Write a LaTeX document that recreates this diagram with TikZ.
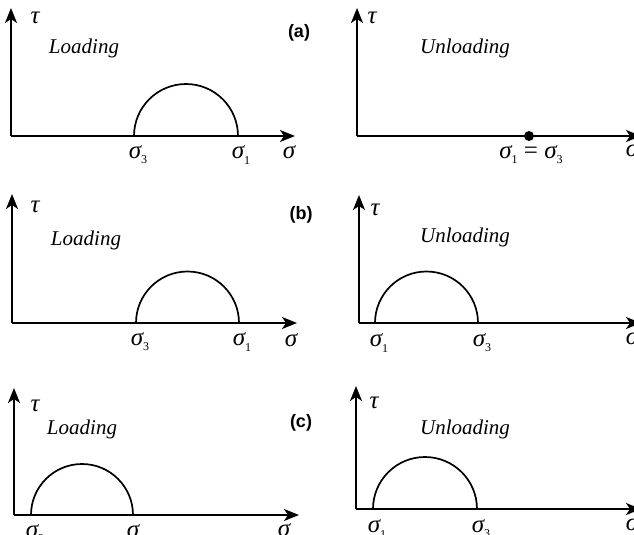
\documentclass[tikz,border=0pt]{standalone}
\usepackage{fontspec}
\setmainfont{Liberation Serif}
\setsansfont{Liberation Sans}
\usetikzlibrary{arrows.meta}

% sigma with an upright subscript
\newcommand{\sg}[1]{σ\raisebox{-0.45ex}{\upshape\fontsize{12}{12}\selectfont #1}}

\tikzset{
  axis/.style  = {line width=2pt,
                  -{Stealth[length=15pt, width=12pt, inset=4pt]}},
  mohr/.style  = {line width=1.7pt},
  sym/.style   = {font=\fontsize{25}{25}\selectfont\itshape, inner sep=0pt},
  state/.style = {font=\fontsize{21}{21}\selectfont\itshape, inner sep=0pt},
  tag/.style   = {font=\sffamily\bfseries\fontsize{18}{18}\selectfont,
                  inner sep=0pt},
  spot/.style  = {circle, fill=black, inner sep=0pt, minimum size=10pt},
}

\begin{document}
\begin{tikzpicture}[x=1pt, y=-1pt]
  \useasboundingbox (0,0) rectangle (634,535);

  %% ---------------- (a) loading ----------------
  \coordinate (oA) at (11,136);
  \coordinate (tA) at (11,8);
  \coordinate (xA) at (295,136);
  \draw[axis] (oA) -- (tA);
  \draw[axis] (oA) -- (xA);
  \coordinate (a3) at (134,136);
  \draw[mohr] (a3) arc[start angle=180, end angle=0, radius=52pt];
  \node[sym] (tauA) at (35,18) {τ};
  \node[state] (ldA) at (84,48) {Loading};
  \node[tag] (tagA) at (299,33) {(a)};
  \node[sym] (sA3) at (138,155) {\sg{3}};
  \node[sym] (sA1) at (241,155) {\sg{1}};
  \node[sym] (sA) at (289,152) {σ};

  %% ---------------- (a) unloading ----------------
  \coordinate (oB) at (357,136);
  \coordinate (tB) at (357,8);
  \coordinate (xB) at (641,136);
  \draw[axis] (oB) -- (tB);
  \draw[axis] (oB) -- (xB);
  \node[spot] (pB) at (529,136) {};
  \node[sym] (tauB) at (372,18) {τ};
  \node[state] (ulB) at (465,48) {Unloading};
  \node[sym] (sB) at (531,155) {\sg{1} {\upshape=} \sg{3}};
  \node[sym] (sBx) at (632,150) {σ};

  %% ---------------- (b) loading ----------------
  \coordinate (oC) at (12,323);
  \coordinate (tC) at (12,194);
  \coordinate (xC) at (297,323);
  \draw[axis] (oC) -- (tC);
  \draw[axis] (oC) -- (xC);
  \coordinate (c3) at (136,323);
  \draw[mohr] (c3) arc[start angle=180, end angle=0, radius=51.5pt];
  \node[sym] (tauC) at (35,207) {τ};
  \node[state] (ldC) at (86,240) {Loading};
  \node[tag] (tagC) at (301,215) {(b)};
  \node[sym] (sC3) at (140,342) {\sg{3}};
  \node[sym] (sC1) at (242,342) {\sg{1}};
  \node[sym] (sC) at (291,340) {σ};

  %% ---------------- (b) unloading ----------------
  \coordinate (oD) at (359,323);
  \coordinate (tD) at (359,195);
  \coordinate (xD) at (641,323);
  \draw[axis] (oD) -- (tD);
  \draw[axis] (oD) -- (xD);
  \coordinate (d1) at (375,323);
  \draw[mohr] (d1) arc[start angle=180, end angle=0, radius=51.5pt];
  \node[sym] (tauD) at (375,210) {τ};
  \node[state] (ulD) at (465,237) {Unloading};
  \node[sym] (sD1) at (379,343) {\sg{1}};
  \node[sym] (sD3) at (482,343) {\sg{3}};
  \node[sym] (sD) at (632,338) {σ};

  %% ---------------- (c) loading ----------------
  \coordinate (oE) at (14,515);
  \coordinate (tE) at (14,388);
  \coordinate (xE) at (299,515);
  \draw[axis] (oE) -- (tE);
  \draw[axis] (oE) -- (xE);
  \coordinate (e3) at (31,515);
  \draw[mohr] (e3) arc[start angle=180, end angle=0, radius=51pt];
  \node[sym] (tauE) at (35,406) {τ};
  \node[state] (ldE) at (82,429) {Loading};
  \node[tag] (tagE) at (301,423) {(c)};
  \node[sym] (sE3) at (35,534) {\sg{3}};
  \node[sym] (sE1) at (136,534) {\sg{1}};
  \node[sym] (sE) at (284,530) {σ};

  %% ---------------- (c) unloading ----------------
  \coordinate (oF) at (356,509);
  \coordinate (tF) at (356,386);
  \coordinate (xF) at (641,509);
  \draw[axis] (oF) -- (tF);
  \draw[axis] (oF) -- (xF);
  \coordinate (f1) at (373,509);
  \draw[mohr] (f1) arc[start angle=180, end angle=0, radius=52pt];
  \node[sym] (tauF) at (374,403) {τ};
  \node[state] (ulF) at (465,429) {Unloading};
  \node[sym] (sF1) at (377,529) {\sg{1}};
  \node[sym] (sF3) at (481,529) {\sg{3}};
  \node[sym] (sF) at (632,524) {σ};

\end{tikzpicture}
\end{document}
